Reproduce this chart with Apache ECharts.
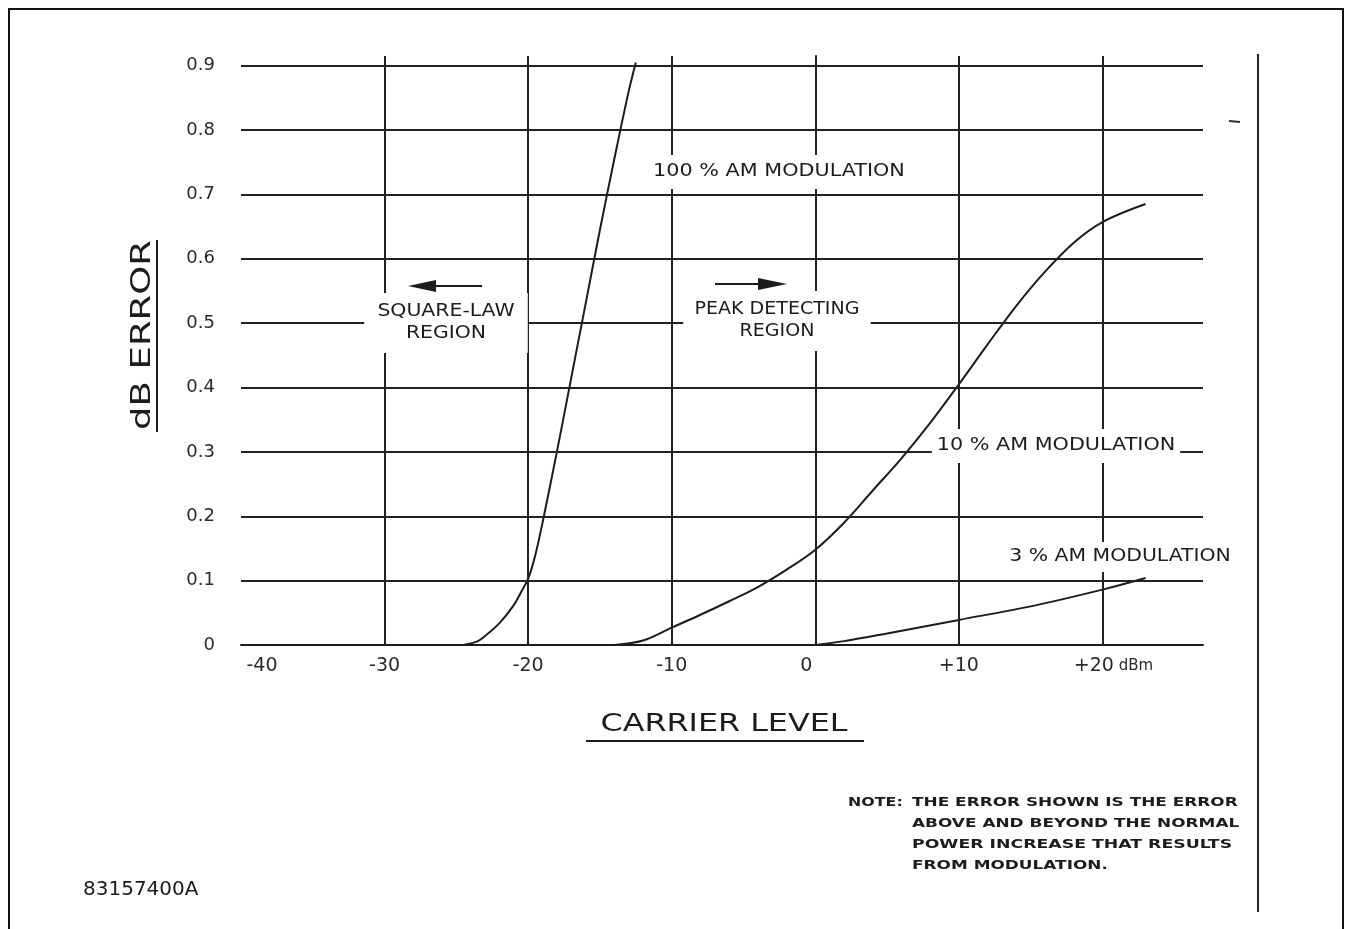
<!DOCTYPE html>
<html>
<head>
<meta charset="utf-8">
<title>dB Error vs Carrier Level</title>
<script src="https://cdn.jsdelivr.net/npm/echarts@6/dist/echarts.min.js"></script>
<style>
  html, body { margin: 0; padding: 0; background: #fff; }
  #chart { width: 1352px; height: 929px; }
</style>
</head>
<body>
<div id="chart"></div>
<script>
// axis ticks
var xTicks = [-40, -30, -20, -10, 0, 10, 20];
var yTicks = [0, 0.1, 0.2, 0.3, 0.4, 0.5, 0.6, 0.7, 0.8, 0.9];

// 100 % AM modulation
var am100X = [-24.5, -23.5, -23, -22, -21, -20.5, -20, -19.5, -19, -18, -17, -16, -15, -14, -13, -12.5];
var am100Y = [0, 0.006, 0.014, 0.034, 0.062, 0.082, 0.103, 0.14, 0.19, 0.3, 0.415, 0.53, 0.645, 0.755, 0.86, 0.905];

// 10 % AM modulation
var am10X = [-14, -12, -10, -8, -6, -4, -2, 0, 2, 4, 6, 8, 10, 12, 14, 16, 18, 20, 23];
var am10Y = [0, 0.007, 0.027, 0.047, 0.068, 0.09, 0.117, 0.148, 0.19, 0.24, 0.29, 0.345, 0.405, 0.467, 0.527, 0.58, 0.625, 0.657, 0.685];

// 3 % AM modulation
var am3X = [0, 2, 5, 10, 15, 20, 23];
var am3Y = [0, 0.006, 0.018, 0.039, 0.06, 0.086, 0.104];

function zip(xs, ys) {
  return xs.map(function (x, i) { return [x, ys[i]]; });
}

var INK = "#1c1c1c";
var FONT = '"DejaVu Sans", sans-serif';

function xLabel(v) {
  if (v === -40) return "{first|-40}";
  if (v === 0) return "{zero|0}";
  if (v === 20) return "{n|+20}{u| dBm}";
  return (v > 0 ? "+" : "") + v;
}

// boxed annotation text (white box breaks the grid lines like the drawing)
function label(text, x, y, sx, pad) {
  return {
    type: "text", x: x, y: y, z: 50, scaleX: sx,
    style: {
      text: text, fill: INK,
      font: '17px "DejaVu Sans"',
      align: "center", verticalAlign: "middle",
      textAlign: "center", textVerticalAlign: "middle",
      lineHeight: 22,
      backgroundColor: "#fff",
      padding: pad
    }
  };
}

function plain(text, x, y, font, sx) {
  return {
    type: "text", x: x, y: y, z: 60, scaleX: sx || 1,
    style: { text: text, fill: INK, font: font, align: "left", verticalAlign: "middle", textAlign: "left", textVerticalAlign: "middle" }
  };
}

var noteFont = 'bold 13px "DejaVu Sans"';

var option = {
  animation: false,
  backgroundColor: "#fff",
  grid: { left: 241, right: 149, top: 56, bottom: 284 },
  xAxis: {
    type: "value", min: -40, max: 27, interval: 10,
    axisLine: { show: true, onZero: false, lineStyle: { color: INK, width: 2 } },
    axisTick: { show: false },
    splitLine: { show: false },
    axisLabel: {
      showMaxLabel: false, margin: 12, color: "#2a2a2a",
      fontFamily: FONT, fontSize: 19,
      formatter: xLabel,
      rich: {
        first: { fontFamily: FONT, fontSize: 19, color: "#2a2a2a", padding: [0, 0, 0, 42] },
        zero: { fontFamily: FONT, fontSize: 19, color: "#2a2a2a", padding: [0, 18, 0, 0] },
        n: { fontFamily: FONT, fontSize: 19, color: "#2a2a2a", padding: [0, 0, 0, 22] },
        u: { fontFamily: FONT, fontSize: 15, color: "#2a2a2a" }
      }
    }
  },
  yAxis: {
    type: "value", min: 0, max: 0.915, interval: 0.1,
    axisLine: { show: true, lineStyle: { color: INK, width: 2 } },
    axisTick: { show: false },
    splitLine: { show: false },
    axisLabel: {
      showMaxLabel: false, margin: 26, color: "#2a2a2a",
      fontFamily: FONT, fontSize: 18,
      formatter: function (v) { return v === 0 ? "0" : v.toFixed(1); }
    }
  },
  series: [
    {
      name: "grid", type: "line", data: [], silent: true,
      markLine: {
        silent: true, symbol: ["none", "none"], label: { show: false },
        lineStyle: { type: "solid", color: "#222", width: 2 },
        emphasis: { disabled: true },
        data: yTicks.slice(1).map(function (v) { return { yAxis: v }; })
          .concat(xTicks.slice(1).map(function (v) { return { xAxis: v }; }))
      }
    },
    {
      name: "100 % AM", type: "line", data: zip(am100X, am100Y), smooth: 0.35,
      showSymbol: false, lineStyle: { color: INK, width: 2 }
    },
    {
      name: "10 % AM", type: "line", data: zip(am10X, am10Y), smooth: 0.35,
      showSymbol: false, lineStyle: { color: INK, width: 2 }
    },
    {
      name: "3 % AM", type: "line", data: zip(am3X, am3Y), smooth: 0.35,
      showSymbol: false, lineStyle: { color: INK, width: 2 }
    }
  ],
  graphic: [
    // outer frame and right rule
    { type: "rect", z: 40, shape: { x: 9, y: 9, width: 1334, height: 940 }, style: { fill: "none", stroke: "#111", lineWidth: 2 } },
    { type: "line", z: 40, shape: { x1: 1258, y1: 54, x2: 1258, y2: 912 }, style: { stroke: "#222", lineWidth: 2 } },
    { type: "line", z: 40, shape: { x1: 1229, y1: 121, x2: 1240, y2: 122 }, style: { stroke: "#333", lineWidth: 2 } },

    // annotations
    label("100 % AM MODULATION", 779, 172, 1.22, [6, 5]),
    label("SQUARE-LAW\nREGION", 446, 323, 1.2, [8, 11]),
    label("PEAK DETECTING\nREGION", 777, 321, 1.12, [8, 10]),
    label("10 % AM MODULATION", 1056, 446, 1.22, [6, 4]),
    label("3 % AM MODULATION", 1120, 557, 1.2, [4, 4]),

    // arrows
    { type: "line", z: 60, shape: { x1: 430, y1: 286, x2: 482, y2: 286 }, style: { stroke: INK, lineWidth: 2 } },
    { type: "polygon", z: 60, shape: { points: [[408, 286], [436, 280], [436, 292]] }, style: { fill: INK } },
    { type: "line", z: 60, shape: { x1: 715, y1: 284, x2: 762, y2: 284 }, style: { stroke: INK, lineWidth: 2 } },
    { type: "polygon", z: 60, shape: { points: [[787, 284], [758, 278], [758, 290]] }, style: { fill: INK } },

    // axis titles
    {
      type: "text", x: 724, y: 724, z: 60, scaleX: 1.27,
      style: { text: "CARRIER LEVEL", fill: INK, font: '25px "DejaVu Sans"', align: "center", verticalAlign: "middle", textAlign: "center", textVerticalAlign: "middle" }
    },
    { type: "line", z: 60, shape: { x1: 586, y1: 741, x2: 864, y2: 741 }, style: { stroke: INK, lineWidth: 2 } },
    {
      type: "text", x: 143, y: 335, z: 60, rotation: Math.PI / 2, scaleX: 1.42,
      style: { text: "dB ERROR", fill: INK, font: '26px "DejaVu Sans"', align: "center", verticalAlign: "middle", textAlign: "center", textVerticalAlign: "middle" }
    },
    { type: "line", z: 60, shape: { x1: 157, y1: 240, x2: 157, y2: 432 }, style: { stroke: INK, lineWidth: 2 } },

    // note
    plain("NOTE:", 848, 803, noteFont, 1.22),
    plain("THE ERROR SHOWN IS THE ERROR", 912, 803, noteFont, 1.3),
    plain("ABOVE AND BEYOND THE NORMAL", 912, 824, noteFont, 1.3),
    plain("POWER INCREASE THAT RESULTS", 912, 845, noteFont, 1.33),
    plain("FROM MODULATION.", 912, 866, noteFont, 1.3),

    // drawing number
    plain("83157400A", 83, 890, '20px "DejaVu Sans"', 1.0)
  ]
};

var chart = echarts.init(document.getElementById("chart"));
chart.setOption(option);
</script>
</body>
</html>
